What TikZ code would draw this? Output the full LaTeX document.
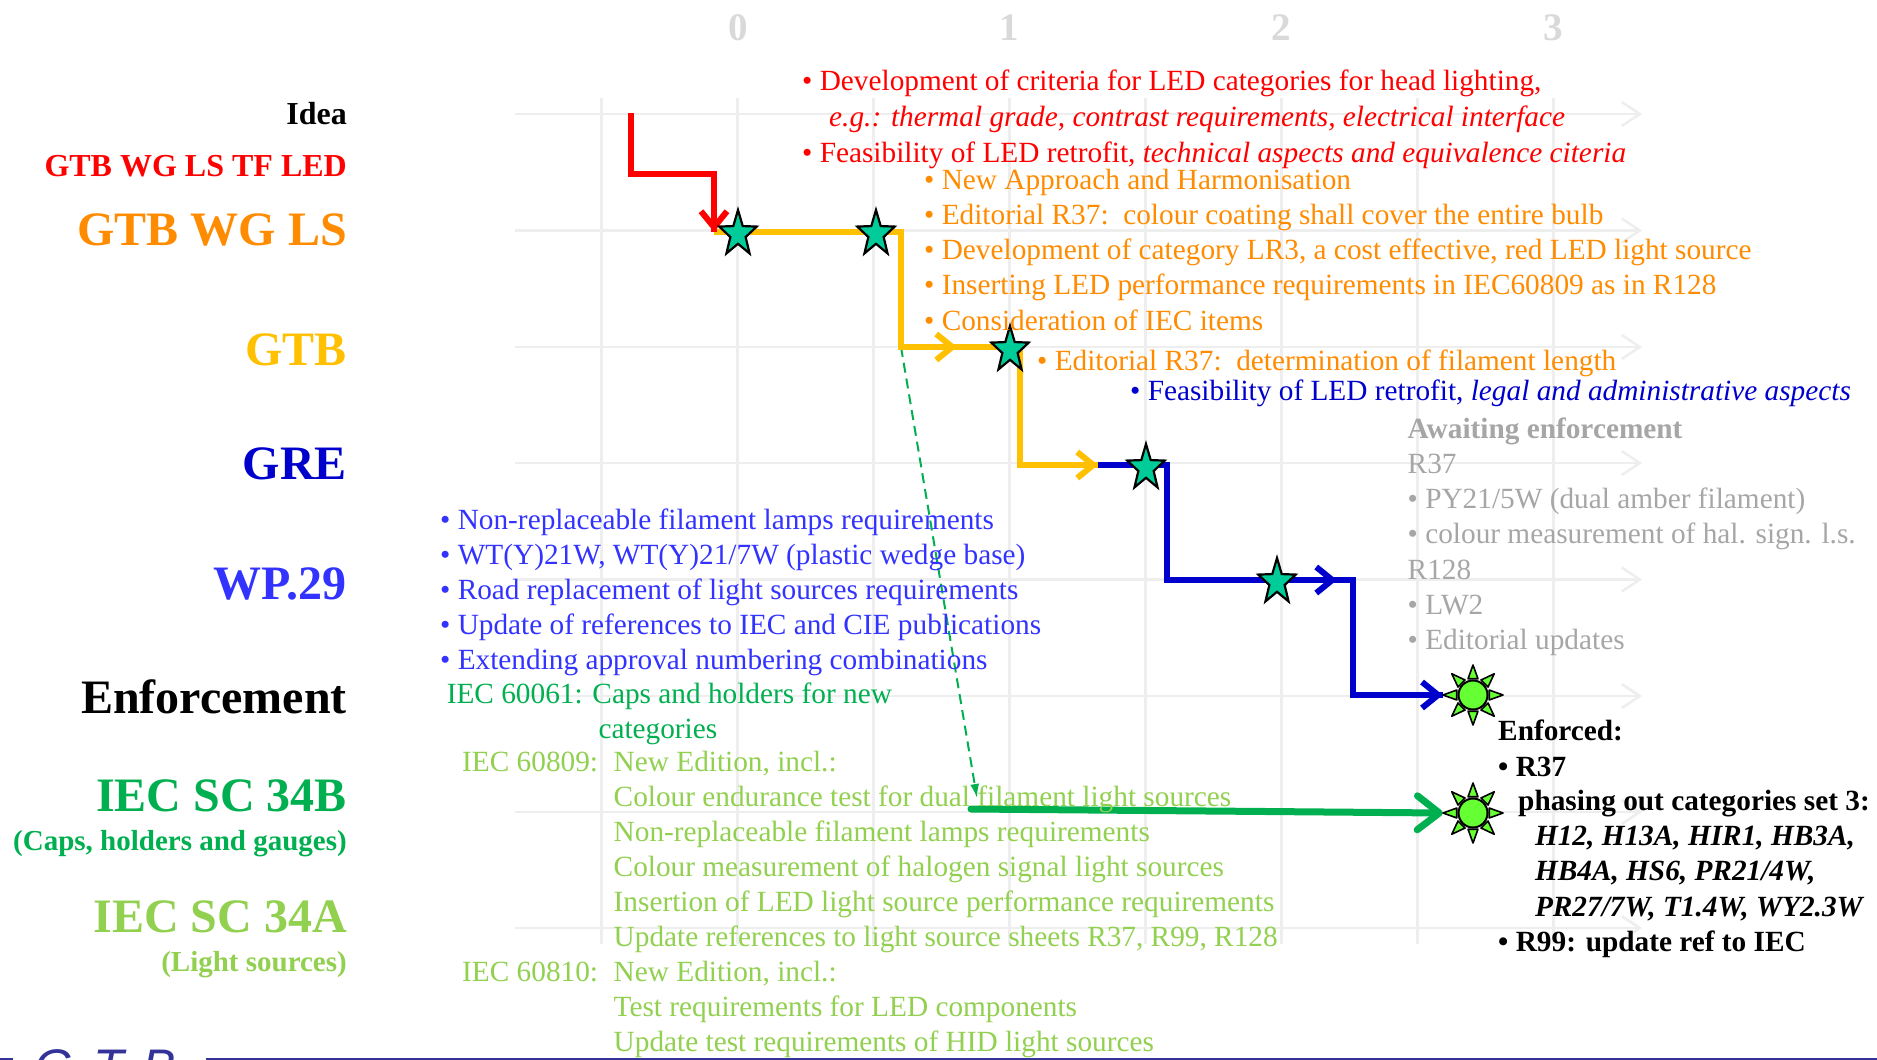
\documentclass[tikz,border=0pt]{standalone}
\usepackage{fontspec}
\setmainfont{Liberation Serif}
\newfontfamily\logofont{Liberation Sans}
\usetikzlibrary{shapes.geometric,arrows.meta,calc}
\definecolor{gridc}{RGB}{238,238,238}
\definecolor{axisc}{RGB}{217,217,217}
\definecolor{redc}{RGB}{255,0,0}
\definecolor{orangec}{RGB}{255,140,0}
\definecolor{gtbc}{RGB}{255,192,0}
\definecolor{grec}{RGB}{0,0,204}
\definecolor{wpc}{RGB}{51,51,255}
\definecolor{iecb}{RGB}{0,176,80}
\definecolor{ieca}{RGB}{146,208,80}
\definecolor{grayc}{RGB}{166,166,166}
\definecolor{starfill}{RGB}{0,204,153}
\definecolor{sunfill}{RGB}{102,255,51}
\definecolor{logoc}{RGB}{51,51,153}
\tikzset{
  gridline/.style={draw=gridc, line width=2.5pt},
  gridarrow/.style={-{Straight Barb[length=18pt,width=24pt]}},
  flow/.style={line width=6pt, line join=miter},
  barb/.style={-{Straight Barb[length=16pt,width=26pt]}},
  bigbarb/.style={-{Straight Barb[length=22pt,width=34pt,round]}},
  starnode/.style={circle, minimum size=44pt, inner sep=0pt},
  starshape/.style={fill=starfill, draw=black, line width=2.2pt, line join=miter},
  sunnode/.style={circle, minimum size=60pt, inner sep=0pt},
  sunray/.style={fill=sunfill, draw=black, line width=1.6pt, line join=round},
  sunbody/.style={fill=sunfill, draw=black, line width=2pt},
  lbl/.style={anchor=base east, inner sep=0pt, font=\bfseries\fontsize{48}{56}\selectfont},
  slbl/.style={anchor=base east, inner sep=0pt, font=\bfseries\fontsize{32}{38}\selectfont},
  sublbl/.style={anchor=base east, inner sep=0pt, font=\bfseries\fontsize{29}{35}\selectfont},
  txt/.style={anchor=base west, inner sep=0pt, font=\fontsize{29.3}{35}\selectfont},
  btxt/.style={anchor=base west, inner sep=0pt, font=\bfseries\fontsize{29.3}{35}\selectfont},
  bitxt/.style={anchor=base west, inner sep=0pt, font=\bfseries\itshape\fontsize{29.3}{35}\selectfont},
  axislbl/.style={anchor=base, inner sep=0pt, text=axisc, font=\bfseries\fontsize{39}{45}\selectfont},
  logo/.style={anchor=base west, inner sep=0pt, text=logoc, font=\logofont\itshape\fontsize{50}{60}\selectfont}
}
\begin{document}
\begin{tikzpicture}[x=1pt,y=-1pt]
\useasboundingbox (0,0) rectangle (1877,1060);
\fill[white] (0,0) rectangle (1877,1060);

% grid
\foreach \k in {0,...,7}
  \draw[gridline] (601.5+136*\k,98) -- (601.5+136*\k,944);
\foreach \yy in {114,230.5,347,463,579.5,696,812,928}
  \draw[gridline,gridarrow] (515,\yy) -- (1642,\yy);

% axis labels
\node[axislbl] (ax0) at (738,40) {0};
\node[axislbl] (ax1) at (1009.5,40) {1};
\node[axislbl] (ax2) at (1281.5,40) {2};
\node[axislbl] (ax3) at (1553.5,40) {3};

% left labels
\node[slbl, text=black] (lIdea) at (347,124) {Idea};
\node[slbl, text=redc] (lTF) at (347,176) {GTB WG LS TF LED};
\node[lbl, text=orangec] (lWG) at (347,245) {GTB WG LS};
\node[lbl, text=gtbc] (lGTB) at (347,365) {GTB};
\node[lbl, text=grec] (lGRE) at (347,479.3) {GRE};
\node[lbl, text=wpc] (lWP) at (347,599.3) {WP.29};
\node[lbl, text=black] (lEnf) at (347,713.3) {Enforcement};
\node[lbl, text=iecb] (lB) at (347,811) {IEC SC 34B};
\node[sublbl, text=iecb] (lBs) at (347,850) {(Caps, holders and gauges)};
\node[lbl, text=ieca] (lA) at (347,932.7) {IEC SC 34A};
\node[sublbl, text=ieca] (lAs) at (347,971.7) {(Light sources)};

% key points of the flow
\coordinate (ideaTop) at (631,113);
\coordinate (rb1) at (631,174);
\coordinate (rb2) at (714,174);
\coordinate (lsStart) at (714,232);
\coordinate (yc1) at (901,232);
\coordinate (yc2) at (901,347);
\coordinate (yA) at (957,347);
\coordinate (yc3) at (1020,347);
\coordinate (yc4) at (1020,465);
\coordinate (yB) at (1098,465);
\coordinate (bc1) at (1167,465);
\coordinate (bc2) at (1167,580);
\coordinate (bA) at (1337,580);
\coordinate (bc3) at (1353,580);
\coordinate (bc4) at (1353,695);
\coordinate (gStart) at (971,809);
\coordinate (dashEnd) at (977,798);

\node[sunnode] (sun1) at (1473,695) {};
\node[sunnode] (sun2) at (1473,813) {};
\node[starnode] (s1) at (738,234) {};
\node[starnode] (s2) at (876,234) {};
\node[starnode] (s3) at (1010,350) {};
\node[starnode] (s4) at (1146,468) {};
\node[starnode] (s5) at (1277,582) {};

% dashed link
\draw[draw=iecb, line width=2pt, dash pattern=on 10pt off 6pt, -{Latex[length=14pt,width=9pt]}] (yc2) -- (dashEnd);

% flows
\draw[flow, draw=gtbc] (lsStart) -- (yc1) -- (yc2) -- (yA);
\draw[flow, draw=gtbc, barb] (yc2) -- (yA);
\draw[flow, draw=gtbc] (yA) -- (yc3) -- (yc4) -- (yB);
\draw[flow, draw=gtbc, barb] (yc4) -- (yB);
\draw[flow, draw=grec] (yB) -- (bc1) -- (bc2) -- (bA);
\draw[flow, draw=grec, barb] (bc2) -- (bA);
\draw[flow, draw=grec] (bA) -- (bc3) -- (bc4) -- (sun1.west);
\draw[flow, draw=grec, barb] (bc4) -- (sun1.west);
\draw[flow, draw=redc] (ideaTop) -- (rb1) -- (rb2) -- (lsStart);
\draw[flow, draw=redc, barb] (rb2) -- (lsStart);
\draw[line width=7pt, draw=iecb, line cap=round, bigbarb] (gStart) -- (sun2.west);

% stars
\foreach \s in {s1,s2,s3,s4,s5}{
  \begin{scope}[shift={(\s.center)}, xscale=0.82]
    \draw[starshape] (90:24pt) -- (126:9.8pt) -- (162:24pt) -- (198:9.8pt) -- (234:24pt)
      -- (270:9.8pt) -- (306:24pt) -- (342:9.8pt) -- (18:24pt) -- (54:9.8pt) -- cycle;
  \end{scope}
}

% suns
\foreach \s in {sun1,sun2}{
  \foreach \a in {0,45,...,315}
    \draw[sunray] ($(\s.center)+(\a:30pt)$) -- ($(\s.center)+(\a+17:17pt)$) -- ($(\s.center)+(\a-17:17pt)$) -- cycle;
  \draw[sunbody] (\s.center) circle[radius=14.5pt];
}

% red text
\node[txt, text=redc] (r1) at (802,90.7) {• Development of criteria for LED categories for head lighting,};
\node[txt, text=redc] (r2) at (829,126) {\itshape e.g.: thermal grade, contrast requirements, electrical interface};
\node[txt, text=redc] (r3) at (802,162) {• Feasibility of LED retrofit, \textit{technical aspects and equivalence citeria}};

% orange text
\node[txt, text=orangec] (o1) at (924,189.3) {• New Approach and Harmonisation};
\node[txt, text=orangec] (o2) at (924,224.5) {• Editorial R37:\ \ colour coating shall cover the entire bulb};
\node[txt, text=orangec] (o3) at (924,259.7) {• Development of category LR3, a cost effective, red LED light source};
\node[txt, text=orangec] (o4) at (924,294.9) {• Inserting LED performance requirements in IEC60809 as in R128};
\node[txt, text=orangec] (o5) at (924,330) {• Consideration of IEC items};
\node[txt, text=orangec] (o6) at (1037,370) {• Editorial R37:\ \ determination of filament length};

% blue text
\node[txt, text=grec] (b1) at (1130,400) {• Feasibility of LED retrofit, \textit{legal and administrative aspects}};

% gray text
\node[btxt, text=grayc] (g1) at (1407.5,438.3) {Awaiting enforcement};
\node[txt, text=grayc] (g2) at (1407.5,473.3) {R37};
\node[txt, text=grayc] (g3) at (1407.5,508.5) {• PY21/5W (dual amber filament)};
\node[txt, text=grayc] (g4) at (1407.5,543.7) {• colour measurement of hal. sign. l.s.};
\node[txt, text=grayc] (g5) at (1407.5,579) {R128};
\node[txt, text=grayc] (g6) at (1407.5,614.2) {• LW2};
\node[txt, text=grayc] (g7) at (1407.5,649.4) {• Editorial updates};

% WP.29 list
\node[txt, text=wpc] (w1) at (440,529.3) {• Non-replaceable filament lamps requirements};
\node[txt, text=wpc] (w2) at (440,564.3) {• WT(Y)21W, WT(Y)21/7W (plastic wedge base)};
\node[txt, text=wpc] (w3) at (440,599.3) {• Road replacement of light sources requirements};
\node[txt, text=wpc] (w4) at (440,634.3) {• Update of references to IEC and CIE publications};
\node[txt, text=wpc] (w5) at (440,669.3) {• Extending approval numbering combinations};

% IEC texts
\node[txt, text=iecb] (i1) at (446.6,703.3) {IEC 60061: Caps and holders for new};
\node[txt, text=iecb] (i2) at (598.3,738.3) {categories};
\node[txt, text=ieca] (a1) at (462,771.7) {IEC 60809:};
\node[txt, text=ieca] (a2) at (613.5,771.7) {New Edition, incl.:};
\node[txt, text=ieca] (a3) at (613.5,806.5) {Colour endurance test for dual filament light sources};
\node[txt, text=ieca] (a4) at (613.5,841.5) {Non-replaceable filament lamps requirements};
\node[txt, text=ieca] (a5) at (613.5,876.5) {Colour measurement of halogen signal light sources};
\node[txt, text=ieca] (a6) at (613.5,911.5) {Insertion of LED light source performance requirements};
\node[txt, text=ieca] (a7) at (613.5,946.7) {Update references to light source sheets R37, R99, R128};
\node[txt, text=ieca] (a8) at (462,981.7) {IEC 60810:};
\node[txt, text=ieca] (a9) at (613.5,981.7) {New Edition, incl.:};
\node[txt, text=ieca] (a10) at (613.5,1016.7) {Test requirements for LED components};
\node[txt, text=ieca] (a11) at (613.5,1051.7) {Update test requirements of HID light sources};

% enforced block
\node[btxt] (e1) at (1498,740) {Enforced:};
\node[btxt] (e2) at (1498,776) {• R37};
\node[btxt] (e3) at (1518,810.7) {phasing out categories set 3:};
\node[bitxt] (e4) at (1534.8,845.5) {H12, H13A, HIR1, HB3A,};
\node[bitxt] (e5) at (1534.8,880.7) {HB4A, HS6, PR21/4W,};
\node[bitxt] (e6) at (1534.8,916) {PR27/7W, T1.4W, WY2.3W};
\node[btxt] (e7) at (1498,951.7) {• R99: update ref to IEC};

% logo
\node[logo] (lgG) at (34,1084) {G};
\node[logo] (lgT) at (93,1084) {T};
\node[logo] (lgB) at (142,1084) {B};
\draw[draw=logoc, line width=2pt] (206,1058.5) -- (1877,1058.5);
\draw[draw=logoc, line width=2pt] (0,1058.5) -- (13,1058.5);
\end{tikzpicture}
\end{document}
